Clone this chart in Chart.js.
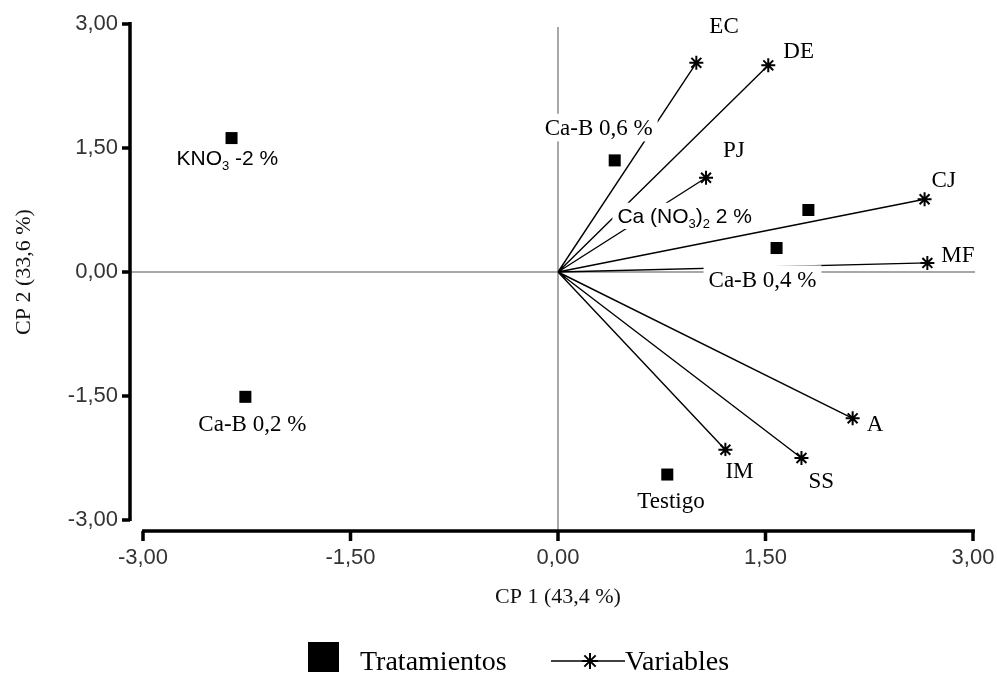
<!DOCTYPE html>
<html>
<head>
<meta charset="utf-8">
<script src="https://cdn.jsdelivr.net/npm/chart.js@4.4.0/dist/chart.umd.min.js"></script>
<style>
  html, body { margin: 0; padding: 0; background: #fff; }
</style>
</head>
<body>
<canvas id="biplot" width="997" height="673"></canvas>
<script>
// treatments (squares)
var treatmentNames = ['KNO_3 -2 %', 'Ca-B 0,6 %', 'Ca (NO_3)_2 2 %', 'Ca-B 0,4 %', 'Ca-B 0,2 %', 'Testigo']
var treatmentX = [-2.36, 0.41, 1.81, 1.58, -2.26, 0.79]
var treatmentY = [1.62, 1.35, 0.75, 0.29, -1.51, -2.45]

// variables (vectors from the origin)
var variableNames = ['EC', 'DE', 'PJ', 'CJ', 'MF', 'A', 'SS', 'IM']
var variableX = [1.00, 1.52, 1.07, 2.65, 2.67, 2.13, 1.76, 1.21]
var variableY = [2.53, 2.50, 1.14, 0.88, 0.11, -1.77, -2.25, -2.15]

var tickValues = [-3, -1.5, 0, 1.5, 3]
var xTitle = 'CP 1 (43,4 %)'
var yTitle = 'CP 2 (33,6 %)'
var legendNames = ['Tratamientos', 'Variables']

// where each label sits: offset from its mark to text start / baseline (px)
var treatmentLabelPos = [[-55, 27], [-70, -25], [-191, 13], [-68, 39], [-47, 34], [-30, 33]]
var treatmentLabelSans = [true, false, true, false, false, false]
var variableLabelPos = [[13, -30], [15, -7], [17, -21], [7, -12], [14, -1], [14, 13], [7, 30], [0, 28]]

var SERIF = '"Liberation Serif", "Times New Roman", serif'
var SANS = '"Liberation Sans", Arial, sans-serif'

function fmt(v) {
    return v.toFixed(2).replace('.', ',')
}

// "_x" means x is a subscript
function splitText(text) {
    var out = []
    var buf = ''
    for (var i = 0; i < text.length; i++) {
        if (text[i] === '_') {
            if (buf) out.push({ t: buf, sub: false })
            buf = ''
            out.push({ t: text[i + 1], sub: true })
            i++
        } else {
            buf += text[i]
        }
    }
    if (buf) out.push({ t: buf, sub: false })
    return out
}

function drawLabel(ctx, text, x, y, sans) {
    var size = sans ? 21 : 23
    var family = sans ? SANS : SERIF
    var segs = splitText(text)
    var w = 0
    segs.forEach(function (s) {
        ctx.font = (s.sub ? Math.round(size * 0.62) : size) + 'px ' + family
        s.w = ctx.measureText(s.t).width
        w += s.w
    })
    var cap = size * 0.68
    ctx.fillStyle = '#fff'
    ctx.fillRect(x - 5, y - cap - 6, w + 10, cap + 12)
    ctx.fillStyle = '#000'
    ctx.textAlign = 'left'
    ctx.textBaseline = 'alphabetic'
    var cx = x
    segs.forEach(function (s) {
        ctx.font = (s.sub ? Math.round(size * 0.62) : size) + 'px ' + family
        ctx.fillText(s.t, cx, s.sub ? y + 5 : y)
        cx += s.w
    })
}

function drawStar(ctx, x, y, r) {
    ctx.beginPath()
    for (var a = 0; a < 4; a++) {
        var ang = a * Math.PI / 4
        ctx.moveTo(x - Math.cos(ang) * r, y - Math.sin(ang) * r)
        ctx.lineTo(x + Math.cos(ang) * r, y + Math.sin(ang) * r)
    }
    ctx.stroke()
}

var decor = {
    id: 'decor',
    beforeDatasetsDraw: function (chart) {
        var ctx = chart.ctx
        var xs = chart.scales.x, ys = chart.scales.y
        var area = chart.chartArea
        ctx.save()
        ctx.strokeStyle = '#8c8c8c'
        ctx.lineWidth = 1.5
        ctx.beginPath()
        ctx.moveTo(area.left - 12, ys.getPixelForValue(0))
        ctx.lineTo(xs.getPixelForValue(3) + 2, ys.getPixelForValue(0))
        ctx.moveTo(xs.getPixelForValue(0), ys.getPixelForValue(3) + 3)
        ctx.lineTo(xs.getPixelForValue(0), area.bottom + 11)
        ctx.stroke()
        ctx.restore()
    },
    afterDatasetsDraw: function (chart) {
        var ctx = chart.ctx
        var xs = chart.scales.x, ys = chart.scales.y
        ctx.save()
        for (var i = 0; i < treatmentNames.length; i++) {
            drawLabel(ctx, treatmentNames[i],
                xs.getPixelForValue(treatmentX[i]) + treatmentLabelPos[i][0],
                ys.getPixelForValue(treatmentY[i]) + treatmentLabelPos[i][1],
                treatmentLabelSans[i])
        }
        for (var j = 0; j < variableNames.length; j++) {
            drawLabel(ctx, variableNames[j],
                xs.getPixelForValue(variableX[j]) + variableLabelPos[j][0],
                ys.getPixelForValue(variableY[j]) + variableLabelPos[j][1],
                false)
        }
        ctx.restore()
    },
    afterDraw: function (chart) {
        var ctx = chart.ctx
        var xs = chart.scales.x, ys = chart.scales.y
        var area = chart.chartArea
        var axX = area.left - 13
        var axY = area.bottom + 11
        ctx.save()
        ctx.strokeStyle = '#000'
        ctx.lineWidth = 3.5
        ctx.lineCap = 'butt'
        ctx.beginPath()
        // left axis
        ctx.moveTo(axX, ys.getPixelForValue(3) - 2)
        ctx.lineTo(axX, ys.getPixelForValue(-3) + 1)
        tickValues.forEach(function (v) {
            var p = ys.getPixelForValue(v)
            ctx.moveTo(axX, p)
            ctx.lineTo(axX - 8, p)
        })
        // bottom axis
        ctx.moveTo(xs.getPixelForValue(-3) - 1, axY)
        ctx.lineTo(xs.getPixelForValue(3) + 2, axY)
        tickValues.forEach(function (v) {
            var p = xs.getPixelForValue(v)
            ctx.moveTo(p, axY)
            ctx.lineTo(p, axY + 10)
        })
        ctx.stroke()

        // legend
        var ly = 657
        ctx.fillStyle = '#000'
        ctx.fillRect(308, ly - 15, 31, 30)
        ctx.font = '28px ' + SERIF
        ctx.textBaseline = 'alphabetic'
        ctx.textAlign = 'left'
        ctx.fillText(legendNames[0], 360, 670)
        ctx.lineWidth = 1.5
        ctx.beginPath()
        ctx.moveTo(551, ly + 4)
        ctx.lineTo(625, ly + 4)
        ctx.stroke()
        ctx.lineWidth = 2
        drawStar(ctx, 590, ly + 4, 8)
        ctx.fillText(legendNames[1], 625, 670)
        ctx.restore()
    }
}

var variablePoints = []
for (var k = 0; k < variableNames.length; k++) {
    variablePoints.push({ x: 0, y: 0 })
    variablePoints.push({ x: variableX[k], y: variableY[k] })
    variablePoints.push({ x: null, y: null })
}
var treatmentPoints = treatmentX.map(function (x, i) { return { x: x, y: treatmentY[i] } })

new Chart(document.getElementById('biplot'), {
    type: 'scatter',
    data: {
        datasets: [{
            label: legendNames[1],
            data: variablePoints,
            showLine: true,
            spanGaps: false,
            borderColor: '#000',
            borderWidth: 1.4,
            pointStyle: 'star',
            pointBorderColor: '#000',
            pointBorderWidth: 2,
            pointRadius: function (c) {
                return (c.raw && (c.raw.x !== 0 || c.raw.y !== 0)) ? 7 : 0
            }
        }, {
            label: legendNames[0],
            data: treatmentPoints,
            pointStyle: 'rect',
            pointRadius: 8.5,
            backgroundColor: '#000',
            borderWidth: 0
        }]
    },
    options: {
        responsive: false,
        devicePixelRatio: 1,
        animation: false,
        events: [],
        layout: { padding: { left: 0, top: 24, right: 24, bottom: 63 } },
        plugins: { legend: { display: false }, tooltip: { enabled: false } },
        scales: {
            x: {
                min: -3, max: 3,
                afterBuildTicks: function (s) { s.ticks = tickValues.map(function (v) { return { value: v } }) },
                afterFit: function (s) { s.height = 90; s.paddingLeft = 0; s.paddingRight = 0 },
                grid: { display: false, drawTicks: false },
                border: { display: false },
                ticks: { padding: 25, color: '#333', font: { family: SANS, size: 22 }, callback: fmt },
                title: { display: true, text: xTitle, color: '#111', font: { family: SERIF, size: 22 }, padding: 0 }
            },
            y: {
                min: -3, max: 3,
                afterBuildTicks: function (s) { s.ticks = tickValues.map(function (v) { return { value: v } }) },
                afterFit: function (s) { s.width = 143; s.paddingTop = 0; s.paddingBottom = 0 },
                grid: { display: false, drawTicks: false },
                border: { display: false },
                ticks: { padding: 25, color: '#333', font: { family: SANS, size: 22 }, callback: fmt },
                title: { display: true, text: yTitle, color: '#111', font: { family: SERIF, size: 22 }, padding: { top: 11 } }
            }
        }
    },
    plugins: [decor]
})
</script>
</body>
</html>
